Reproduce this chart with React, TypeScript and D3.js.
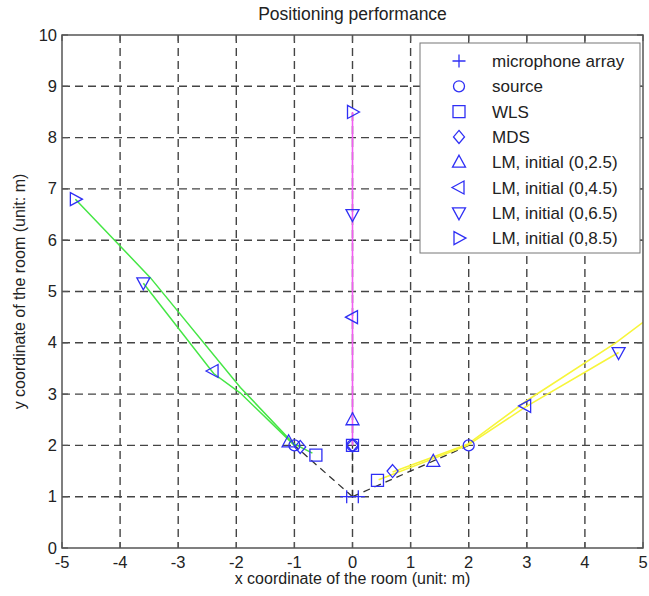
import React from 'react';
import * as d3 from 'd3';

// ground truth
const micX = [-0.1, 0.1];
const micY = [1, 1];
const sourceX = [0, -1, 2];
const sourceY = [2, 2, 2];
// estimates
const wlsX = [0, -0.63, 0.43];
const wlsY = [2, 1.81, 1.32];
const mdsX = [0, -0.9, 0.69];
const mdsY = [2, 1.97, 1.5];
const lmUpX = [0, -1.1, 1.39];
const lmUpY = [2.5, 2.07, 1.69];
const lmLeftX = [0, -2.4, 2.98];
const lmLeftY = [4.5, 3.45, 2.77];
const lmDownX = [0, -3.6, 4.58];
const lmDownY = [6.5, 5.17, 3.81];
const lmRightX = [0, -4.77];
const lmRightY = [8.5, 6.8];

// LM search paths
const magentaX = [0, 0];
const magentaY = [8.5, 2];
const greenAX = [-4.77, -3.48, -1.93, -1.02, -0.69];
const greenAY = [6.8, 5.27, 3.13, 2.04, 1.85];
const greenBX = [-3.6, -2.39, -1.93, -1.0];
const greenBY = [5.16, 3.4, 3.02, 2.0];
const yellowAX = [5.0, 4.53, 3.01, 1.98, 0.69];
const yellowAY = [4.4, 4.0, 2.88, 2.02, 1.48];
const yellowBX = [4.58, 2.98, 1.98, 0.45];
const yellowBY = [3.81, 2.75, 2.0, 1.33];

const xTicks = [-5, -4, -3, -2, -1, 0, 1, 2, 3, 4, 5];
const yTicks = [0, 1, 2, 3, 4, 5, 6, 7, 8, 9, 10];

const legendLabels = [
  'microphone array',
  'source',
  'WLS',
  'MDS',
  'LM, initial (0,2.5)',
  'LM, initial (0,4.5)',
  'LM, initial (0,6.5)',
  'LM, initial (0,8.5)',
];
const legendShapes = ['plus', 'circle', 'square', 'diamond', 'up', 'left', 'down', 'right'];

const BLUE = '#2f2ff5';
const FONT = '"Liberation Sans", Arial, sans-serif';

function markerPath(shape: string, s = 6.5) {
  switch (shape) {
    case 'plus':
      return `M${-s},0H${s}M0,${-s}V${s}`;
    case 'circle':
      return `M${-5.5},0A5.5,5.5 0 1,0 5.5,0A5.5,5.5 0 1,0 -5.5,0Z`;
    case 'square':
      return `M-6,-6H6V6H-6Z`;
    case 'diamond':
      return `M0,-6.5L5.5,0L0,6.5L-5.5,0Z`;
    case 'up':
      return `M0,-7L6.5,5H-6.5Z`;
    case 'down':
      return `M0,7L6.5,-5H-6.5Z`;
    case 'left':
      return `M-7,0L5,-6.5V6.5Z`;
    case 'right':
      return `M7,0L-5,-6.5V6.5Z`;
  }
  return '';
}

function Marker({ shape, x, y }: { shape: string; x: number; y: number }) {
  return (
    <path
      d={markerPath(shape)}
      transform={`translate(${x},${y})`}
      fill="none"
      stroke={BLUE}
      strokeWidth={1.3}
    />
  );
}

export default function App() {
  const width = 649;
  const height = 596;
  const left = 62, right = 643, top = 35, bottom = 548;

  const x = d3.scaleLinear().domain([-5, 5]).range([left, right]);
  const y = d3.scaleLinear().domain([0, 10]).range([bottom, top]);

  const line = d3.line<[number, number]>().x(d => x(d[0])).y(d => y(d[1]));
  const zip = (xs: number[], ys: number[]) => xs.map((v, i) => [v, ys[i]] as [number, number]);

  const markerSets: [string, number[], number[]][] = [
    ['plus', micX, micY],
    ['circle', sourceX, sourceY],
    ['square', wlsX, wlsY],
    ['diamond', mdsX, mdsY],
    ['up', lmUpX, lmUpY],
    ['left', lmLeftX, lmLeftY],
    ['down', lmDownX, lmDownY],
    ['right', lmRightX, lmRightY],
  ];

  const axisColor = '#555';

  return (
    <svg width={width} height={height} style={{ display: 'block', position: 'absolute', left: 0, top: 0 }}>
      <rect width={width} height={height} fill="#fff" />
      <defs>
        <clipPath id="plotClip">
          <rect x={left} y={top} width={right - left} height={bottom - top} />
        </clipPath>
      </defs>
      <text x={(left + right) / 2} y={20} textAnchor="middle" fontFamily={FONT} fontSize={17.5} fill="#222">
        Positioning performance
      </text>

      {/* grid */}
      <g stroke="#444" strokeWidth={1.4} strokeDasharray="8,5">
        {xTicks.slice(1, -1).map(t => (
          <line key={'gx' + t} x1={x(t)} x2={x(t)} y1={top} y2={bottom} />
        ))}
        {yTicks.slice(1, -1).map(t => (
          <line key={'gy' + t} x1={left} x2={right} y1={y(t)} y2={y(t)} />
        ))}
      </g>

      <g clipPath="url(#plotClip)">
        {/* true directions */}
        {sourceX.map((sx, i) => (
          <path
            key={'t' + i}
            d={line([[0, 1], [sx, sourceY[i]]]) || ''}
            stroke="#333"
            strokeWidth={1.3}
            strokeDasharray="7,5"
            fill="none"
          />
        ))}
        <path d={line(zip(magentaX, magentaY)) || ''} stroke="#f25ef2" strokeWidth={1.6} fill="none" />
        <path d={line(zip(greenAX, greenAY)) || ''} stroke="#45e645" strokeWidth={1.5} fill="none" />
        <path d={line(zip(greenBX, greenBY)) || ''} stroke="#45e645" strokeWidth={1.5} fill="none" />
        <path d={line(zip(yellowAX, yellowAY)) || ''} stroke="#f7f53a" strokeWidth={1.6} fill="none" />
        <path d={line(zip(yellowBX, yellowBY)) || ''} stroke="#f7f53a" strokeWidth={1.6} fill="none" />

        {markerSets.map(([shape, xs, ys]) =>
          xs.map((v, i) => <Marker key={shape + i} shape={shape} x={x(v)} y={y(ys[i])} />)
        )}
      </g>

      {/* axes box and inward ticks */}
      <rect x={left} y={top} width={right - left} height={bottom - top} fill="none" stroke={axisColor} strokeWidth={1.5} />
      <g stroke={axisColor} strokeWidth={1.2}>
        {xTicks.map(t => (
          <g key={'xt' + t}>
            <line x1={x(t)} x2={x(t)} y1={bottom} y2={bottom - 6} />
            <line x1={x(t)} x2={x(t)} y1={top} y2={top + 6} />
          </g>
        ))}
        {yTicks.map(t => (
          <g key={'yt' + t}>
            <line x1={left} x2={left + 6} y1={y(t)} y2={y(t)} />
            <line x1={right} x2={right - 6} y1={y(t)} y2={y(t)} />
          </g>
        ))}
      </g>
      <g fontFamily={FONT} fontSize={16.5} fill="#222">
        {xTicks.map(t => (
          <text key={'xl' + t} x={x(t)} y={bottom + 20} textAnchor="middle">
            {t}
          </text>
        ))}
        {yTicks.map(t => (
          <text key={'yl' + t} x={left - 5} y={y(t) + 5.5} textAnchor="end">
            {t}
          </text>
        ))}
        <text x={(left + right) / 2} y={584} textAnchor="middle" fontSize={16}>
          x coordinate of the room (unit: m)
        </text>
        <text transform={`translate(25,${(top + bottom) / 2}) rotate(-90)`} textAnchor="middle" fontSize={16}>
          y coordinate of the room (unit: m)
        </text>
      </g>

      {/* legend */}
      <g>
        <rect x={420} y={43} width={220} height={210} fill="#fff" stroke="#777" strokeWidth={1} />
        {legendLabels.map((label, i) => (
          <g key={label} transform={`translate(0,${61 + i * 25.3})`}>
            <Marker shape={legendShapes[i]} x={459} y={0} />
            <text x={492} y={6} fontFamily={FONT} fontSize={17} fill="#222">
              {label}
            </text>
          </g>
        ))}
      </g>
    </svg>
  );
}
